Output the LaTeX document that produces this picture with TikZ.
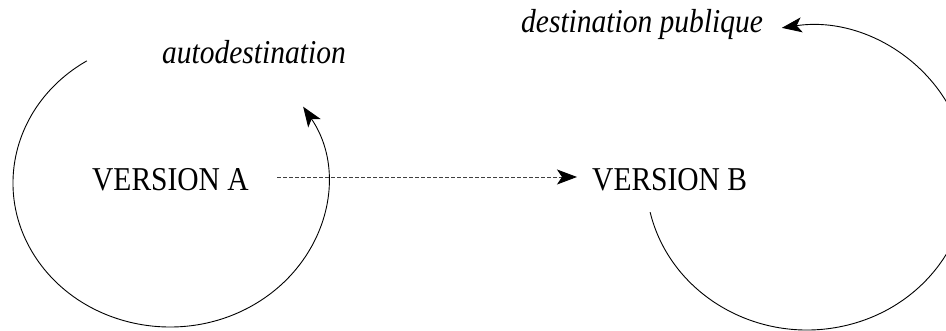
\documentclass[tikz,border=0pt]{standalone}
\usepackage{fontspec}
\setmainfont{Liberation Serif}
\usetikzlibrary{arrows.meta}
\begin{document}
\begin{tikzpicture}[x=1pt,y=1pt,
  lbl/.style={inner sep=0pt,anchor=base west,font=\fontsize{29.5}{32}\selectfont},
  loop/.style={line width=0.9pt,-{Stealth[length=20pt,width=15pt,inset=5pt]}},
  flow/.style={line width=0.9pt,black!75,dash pattern=on 4pt off 2pt,-{Stealth[length=20pt,width=15pt,inset=5pt,black]}}]
\useasboundingbox (0,0) rectangle (946,331);
\node[lbl] (A) at (92,140) {\scalebox{1}[1.13]{VERSION A}};
\node[lbl] (B) at (592,140) {\scalebox{1}[1.13]{VERSION B}};
\node[lbl] (auto) at (162,267) {\scalebox{1}[1.13]{\itshape autodestination}};
\node[lbl] (pub) at (521,298) {\scalebox{1}[1.13]{\itshape destination publique}};
\coordinate (da) at (277,154);
\coordinate (db) at (577,154);
\coordinate (ca) at (170,148);
\coordinate (cb) at (807,153);
\draw[loop] ([shift={(122:157 and 144)}]ca) arc[start angle=122,end angle=392,x radius=157,y radius=144];
\draw[loop] ([shift={(193:161 and 152)}]cb) arc[start angle=193,end angle=459,x radius=161,y radius=152];
\draw[flow] (da) -- (db);
\end{tikzpicture}
\end{document}
